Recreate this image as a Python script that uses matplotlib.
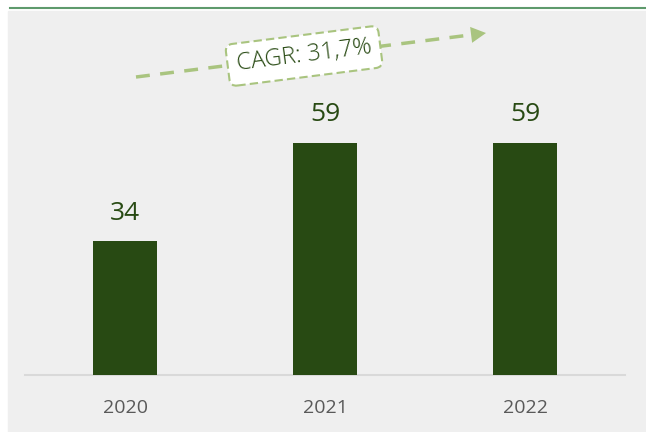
import numpy as np
import matplotlib.pyplot as plt
from matplotlib.patches import Rectangle, Polygon
import matplotlib.lines as mlines

# Data
years = ["2020", "2021", "2022"]
values = [34, 59, 59]
cagr_label = "CAGR: 31,7%"

bar_color = "#284a13"
panel_color = "#efefef"
accent = "#a9c47f"

fig = plt.figure(figsize=(6.46, 4.32), dpi=100)
W, H = 646, 432


def fp(px, py):
    # pixel (from top-left) -> figure fraction
    return (px / W, 1 - py / H)


# gray panel and green top line
fig.add_artist(Rectangle((8 / W, 0), 1 - 8 / W, 1 - 11 / H,
                         transform=fig.transFigure, color=panel_color, zorder=-10))
fig.add_artist(mlines.Line2D([10 / W, 1], [1 - 8 / H, 1 - 8 / H],
                             transform=fig.transFigure, color="#5e9a6c", lw=1.5))

ax = fig.add_axes([25 / W, 57 / H, 600 / W, 365 / H])
ax.set_facecolor("none")
x = range(len(years))
ax.bar(x, values, width=0.316, color=bar_color, zorder=3)
for xi, v in zip(x, values):
    ax.text(xi, v + 4, str(v), ha="center", va="bottom",
            fontsize=19, color=bar_color, family="Open Sans")

ax.set_xlim(-0.5, 2.5)
ax.set_ylim(0, 92.9)
ax.set_xticks(list(x))
ax.set_xticklabels(years, fontsize=14, color="#595959", family="Open Sans")
ax.tick_params(axis="x", length=0, pad=17)
ax.set_yticks([])
for s in ["top", "left", "right"]:
    ax.spines[s].set_visible(False)
ax.spines["bottom"].set_color("#d9d9d9")
ax.spines["bottom"].set_linewidth(1.5)

# CAGR arrow: dashed shaft + solid triangle head
start = np.array([136.0, 77.0])
tip = np.array([486.0, 33.0])
d = (tip - start) / np.linalg.norm(tip - start)
n = np.array([-d[1], d[0]])
base = tip - 15 * d
(sx, sy), (bx, by) = fp(*start), fp(*base)
fig.add_artist(mlines.Line2D([sx, bx], [sy, by], transform=fig.transFigure,
                             color=accent, lw=2.5, linestyle=(0, (4, 3))))
head = [fp(*tip), fp(*(base + 8 * n)), fp(*(base - 8 * n))]
fig.add_artist(Polygon(head, closed=True, transform=fig.transFigure,
                       color=accent, lw=0))

fig.text(304 / W, 1 - 56 / H, cagr_label, ha="center", va="center",
         rotation=7.2, fontsize=17, color=bar_color, family="Open Sans",
         fontweight="light",
         bbox=dict(boxstyle="round,pad=0.38,rounding_size=0.3", fc="white",
                   ec=accent, lw=1.5, ls=(0, (4, 2))))

fig.savefig("out.png", dpi=100)
